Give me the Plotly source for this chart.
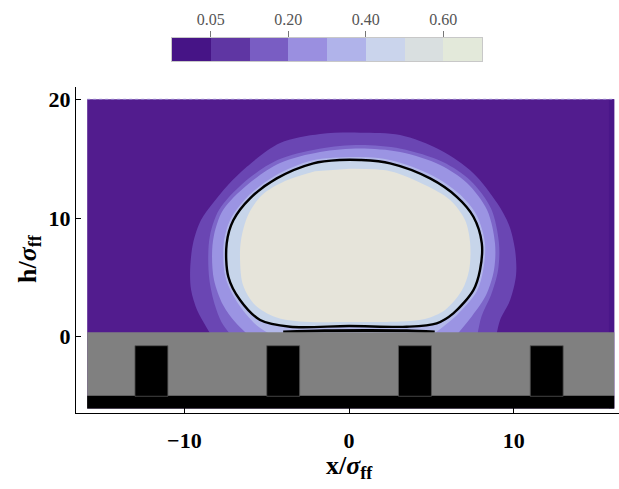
import plotly.graph_objects as go

# ---------------- data ----------------
# colour bar
colorbar_colors = ["#461486", "#5f36a3", "#795dc3", "#9a8fe0",
                   "#b0b3ea", "#cad4ec", "#d9dfe0", "#e3e9da"]
colorbar_ticklabels = ["0.05", "0.20", "0.40", "0.60"]
colorbar_tickpos = [0.5, 2.5, 4.5, 6.5]   # band boundaries carrying the labels

# density-field domain
field_x = [-15.9, 16.1]
field_top = 20.0
edge_strip_x = [15.78, 16.1]

# contour bands (outer -> inner)
halo1_x = [-8.32, -8.74, -9.23, -9.59, -9.65, -9.47, -8.99, -8.26, -7.35, -6.21, -4.19, -1.76,
           0.67, 3.10, 5.53, 7.53, 8.99, 9.71, 10.08, 10.14, 9.78, 9.17, 8.93]
halo1_y = [0.0, 0.99, 2.25, 3.93, 5.62, 7.89, 9.83, 11.26, 12.78, 14.32, 16.32, 17.08,
           17.19, 16.99, 15.73, 13.80, 11.26, 9.41, 7.30, 5.20, 3.09, 1.41, 0.0]

halo2_x = [-7.10, -7.75, -8.15, -8.48, -8.55, -8.44, -7.90, -6.42, -4.35, -1.80,
           0.67, 3.15, 5.70, 7.38, 8.62, 9.10, 9.05, 8.62, 8.05, 7.77]
halo2_y = [0.0, 1.24, 2.67, 4.78, 6.88, 8.57, 10.67, 12.95, 14.88, 15.84,
           16.15, 15.84, 14.72, 13.15, 10.80, 7.89, 5.62, 3.51, 1.74, 0.0]

band3_x = [-6.01, -6.92, -7.65, -8.20, -8.32, -8.20, -7.65, -6.19, -4.19, -1.76,
           0.67, 3.10, 5.53, 7.16, 8.38, 8.86, 8.80, 8.32, 7.47, 6.44]
band3_y = [0.0, 1.24, 2.67, 4.78, 6.88, 8.57, 10.67, 12.78, 14.63, 15.56,
           15.86, 15.56, 14.47, 12.95, 10.67, 7.89, 5.62, 3.51, 1.74, 0.0]

band4_x = [-4.49, -5.60, -6.80, -7.51, -7.61, -7.20, -6.17, -4.52, -2.25, 0.67,
           2.55, 5.08, 6.72, 7.74, 8.25, 8.14, 7.75, 6.60, 4.92]
band4_y = [0.0, 0.95, 2.93, 5.05, 7.87, 9.90, 11.80, 13.55, 14.85, 15.14,
           14.86, 13.57, 12.00, 10.25, 7.87, 5.62, 3.80, 1.90, 0.0]

# highlighted (black) iso-density contour
drop_x = [0.67, 2.49, 4.92, 6.54, 7.55, 8.06, 7.95, 7.55, 6.33, 5.32, 3.50, 0.0,
          -3.58, -5.40, -6.62, -7.33, -7.43, -7.02, -6.01, -4.39, -2.17, -0.55, 0.67]
drop_y = [14.89, 14.61, 13.34, 11.79, 10.11, 7.87, 5.62, 3.93, 1.97, 1.13, 0.84, 0.90,
          0.84, 1.41, 3.09, 5.05, 7.87, 9.83, 11.66, 13.34, 14.61, 14.89, 14.89]
drop_base_x = [-4.0, -1.5, 1.0, 3.5, 5.2]
drop_base_y = [0.40, 0.50, 0.52, 0.50, 0.40]

core_x = [0.06, 2.49, 4.61, 6.13, 7.04, 7.35, 7.29, 6.86, 5.83, 4.61, 3.10, 0.0,
          -2.98, -4.49, -5.71, -6.44, -6.62, -6.56, -6.13, -5.28, -3.89, -2.06]
core_y = [14.15, 13.95, 12.78, 11.52, 9.83, 7.89, 5.62, 3.93, 2.25, 1.49, 1.28, 1.24,
          1.28, 1.66, 2.67, 4.36, 6.46, 8.15, 10.26, 11.94, 13.12, 13.95]

# substrate
substrate_top = 0.37
substrate_bottom = -6.06
base_top = -4.97
pillar_centers = [-12, -4, 4, 12]
pillar_width = 2.0
pillar_top = -0.76

# axes ticks
x_tickvals = [-10, 0, 10]
x_ticktext = ["\u221210", "0", "10"]
y_tickvals = [0, 10, 20]
y_ticktext = ["0", "10", "20"]

# ---------------- styles ----------------
BG = "#521c8e"
STRIP = "#4a1689"
C_HALO1 = "#6a46b3"
C_HALO2 = "#7d66c9"
C_B3 = "#9b94e3"
C_B4 = "#b3b8ea"
C_B5 = "#c7d5ea"
C_CORE = "#e6e4da"
FONT = "Liberation Serif"


def rect(x0, x1, y0, y1):
    return [x0, x1, x1, x0, x0], [y0, y0, y1, y1, y0]


def fill_trace(x, y, color, spline=False):
    return go.Scatter(x=x, y=y, mode="lines", fill="toself", fillcolor=color,
                      line=dict(width=0, color=color,
                                shape="spline" if spline else "linear",
                                smoothing=0.9),
                      hoverinfo="skip", showlegend=False)


fig = go.Figure()

# background field
bx, by = rect(field_x[0], field_x[1], substrate_bottom, field_top)
fig.add_trace(fill_trace(bx, by, BG))
sx, sy = rect(edge_strip_x[0], edge_strip_x[1], substrate_bottom, field_top)
fig.add_trace(fill_trace(sx, sy, STRIP))

# contour bands
fig.add_trace(fill_trace(halo1_x, halo1_y, C_HALO1, spline=True))
fig.add_trace(fill_trace(halo2_x, halo2_y, C_HALO2, spline=True))
fig.add_trace(fill_trace(band3_x, band3_y, C_B3, spline=True))
fig.add_trace(fill_trace(band4_x, band4_y, C_B4, spline=True))
fig.add_trace(fill_trace(drop_x, drop_y, C_B5, spline=True))
fig.add_trace(fill_trace(core_x, core_y, C_CORE, spline=True))

# black contour
fig.add_trace(go.Scatter(x=drop_x, y=drop_y, mode="lines",
                         line=dict(color="black", width=2.4, shape="spline", smoothing=0.9),
                         hoverinfo="skip", showlegend=False))
fig.add_trace(go.Scatter(x=drop_base_x, y=drop_base_y, mode="lines",
                         line=dict(color="black", width=3, shape="spline", smoothing=0.9),
                         hoverinfo="skip", showlegend=False))

# substrate
gx, gy = rect(field_x[0], field_x[1], substrate_bottom, substrate_top)
fig.add_trace(fill_trace(gx, gy, "#808080"))
kx, ky = rect(field_x[0], field_x[1], substrate_bottom, base_top)
fig.add_trace(fill_trace(kx, ky, "black"))
px, py = [], []
for c in pillar_centers:
    rx, ry = rect(c - pillar_width / 2, c + pillar_width / 2, base_top - 0.05, pillar_top)
    px += rx + [None]
    py += ry + [None]
fig.add_trace(go.Scatter(x=px, y=py, mode="lines", fill="toself", fillcolor="black",
                         line=dict(width=0.8, color="#555555"),
                         hoverinfo="skip", showlegend=False))

# faint dotted edge along the top of the field
fig.add_trace(go.Scatter(x=field_x, y=[field_top, field_top], mode="lines",
                         line=dict(color="#8f78c8", width=1, dash="dot"),
                         hoverinfo="skip", showlegend=False))

# colour bar (own small axes)
n = len(colorbar_colors)
cscale = []
for i, c in enumerate(colorbar_colors):
    cscale.append([i / n, c])
    cscale.append([(i + 1) / n, c])
fig.add_trace(go.Heatmap(z=[list(range(n))], x=list(range(n)), y=[0],
                         colorscale=cscale, zmin=-0.5, zmax=n - 0.5,
                         showscale=False, xaxis="x2", yaxis="y2", hoverinfo="skip"))

fig.update_layout(
    width=619, height=489,
    margin=dict(l=76, r=0, t=30, b=76),
    paper_bgcolor="white", plot_bgcolor="white",
    showlegend=False,
    xaxis=dict(range=[-16.58, 16.39], domain=[0, 1], showgrid=False, zeroline=False,
               automargin=False,
               showline=True, linecolor="black", linewidth=1,
               ticks="inside", ticklen=5, tickcolor="black",
               tickvals=x_tickvals, ticktext=x_ticktext, ticklabelstandoff=8,
               tickfont=dict(family=FONT, size=22, color="black", weight="bold")),
    yaxis=dict(range=[-6.43, 21.04], domain=[0, 0.8512], showgrid=False, zeroline=False,
               automargin=False,
               showline=True, linecolor="black", linewidth=1,
               ticks="inside", ticklen=5, tickcolor="black",
               tickvals=y_tickvals, ticktext=y_ticktext, ticklabelstandoff=0,
               tickfont=dict(family=FONT, size=22, color="black", weight="bold")),
    xaxis2=dict(range=[-0.5, n - 0.5], domain=[0.1768, 0.7477], anchor="y2",
                automargin=False,
                side="top", showgrid=False, zeroline=False,
                showline=True, mirror=True, linecolor="#c8c8c8", linewidth=1,
                ticks="outside", ticklen=6, tickcolor="#777777",
                tickvals=colorbar_tickpos, ticktext=colorbar_ticklabels,
                tickfont=dict(family=FONT, size=16, color="#555555")),
    yaxis2=dict(range=[-0.5, 0.5], domain=[0.9191, 0.9791], anchor="x2",
                automargin=False,
                showgrid=False, zeroline=False, showticklabels=False,
                showline=True, mirror=True, linecolor="#c8c8c8", linewidth=1),
    annotations=[
        dict(text="<b>x/<i>\u03c3</i><sub>ff</sub></b>", xref="paper", yref="paper",
             x=0.5028, y=-0.141, xanchor="center", yanchor="middle", showarrow=False,
             font=dict(family=FONT, size=26, color="black")),
        dict(text="<b>h/<i>\u03c3</i><sub>ff</sub></b>", xref="paper", yref="paper",
             x=-0.0866, y=0.4047, xanchor="center", yanchor="middle", showarrow=False,
             textangle=-90, font=dict(family=FONT, size=26, color="black")),
    ],
)

fig.write_html("out.html",
               config={"displayModeBar": False},
               post_script="document.body.style.margin='0px';"
                           "document.body.style.padding='0px';")
